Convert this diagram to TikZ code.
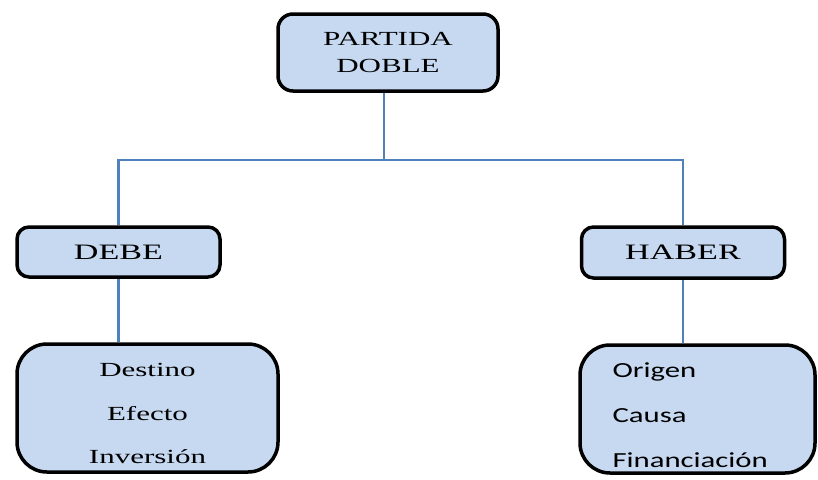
\documentclass[tikz,border=0pt]{standalone}
\usepackage{fontspec}
\newfontfamily\serifancha[FakeStretch=1.55]{Liberation Serif}
\newfontfamily\sansancha[FakeStretch=1.43]{Carlito}
\usetikzlibrary{positioning, backgrounds}
\definecolor{relleno}{RGB}{198,217,241}
\definecolor{azul}{RGB}{79,129,189}
\newcommand{\alto}[1]{\rule{0pt}{#1}}
\tikzset{
    caja/.style = {draw = black, line width = 3.5pt, fill = relleno, inner sep = 0pt},
    rama/.style = {draw = azul, line width = 2.2pt}
}

\begin{document}
\begin{tikzpicture}[x = 1pt, y = -1pt]
    % Marco
    \useasboundingbox (0,0) rectangle (818,479);
    % Cajas
    \node[caja, rounded corners = 15pt, minimum width = 220pt, minimum height = 77pt, align = center, font = \serifancha\fontsize{20}{27}\selectfont] (partida) at (388,52.5) {PARTIDA\\DOBLE};
    \node[caja, rounded corners = 12pt, minimum width = 203pt, minimum height = 50pt, font = \serifancha\fontsize{22}{26}\selectfont] (debe) at (118.5,252) {DEBE};
    \node[caja, rounded corners = 12pt, minimum width = 203pt, minimum height = 51pt, font = \serifancha\fontsize{22}{26}\selectfont] (haber) at (683,252.5) {HABER};
    \node[caja, rounded corners = 30pt, minimum width = 261pt, minimum height = 128pt, align = center, font = \serifancha\fontsize{20}{43.5}\selectfont] (destino) at (147.5,408) {\alto{25pt}Destino\\Efecto\\Inversión};
    \node[caja, rounded corners = 30pt, minimum width = 235pt, minimum height = 128pt, text width = 170pt, align = left, font = \sansancha\fontsize{21.5}{45}\selectfont] (origen) at (697.5,409) {\alto{27pt}Origen\\Causa\\Financiación};
    % Ramas
    \coordinate (nudo) at (384,160);
    \begin{scope}[on background layer]
        \draw[rama] (partida.south -| nudo) -- (nudo);
        \draw[rama] (debe.north) -- (debe.north |- nudo) -- (haber.north |- nudo) -- (haber.north);
        \draw[rama] (debe.south) -- (debe.south |- destino.north);
        \draw[rama] (haber.south) -- (haber.south |- origen.north);
    \end{scope}
\end{tikzpicture}
\end{document}
